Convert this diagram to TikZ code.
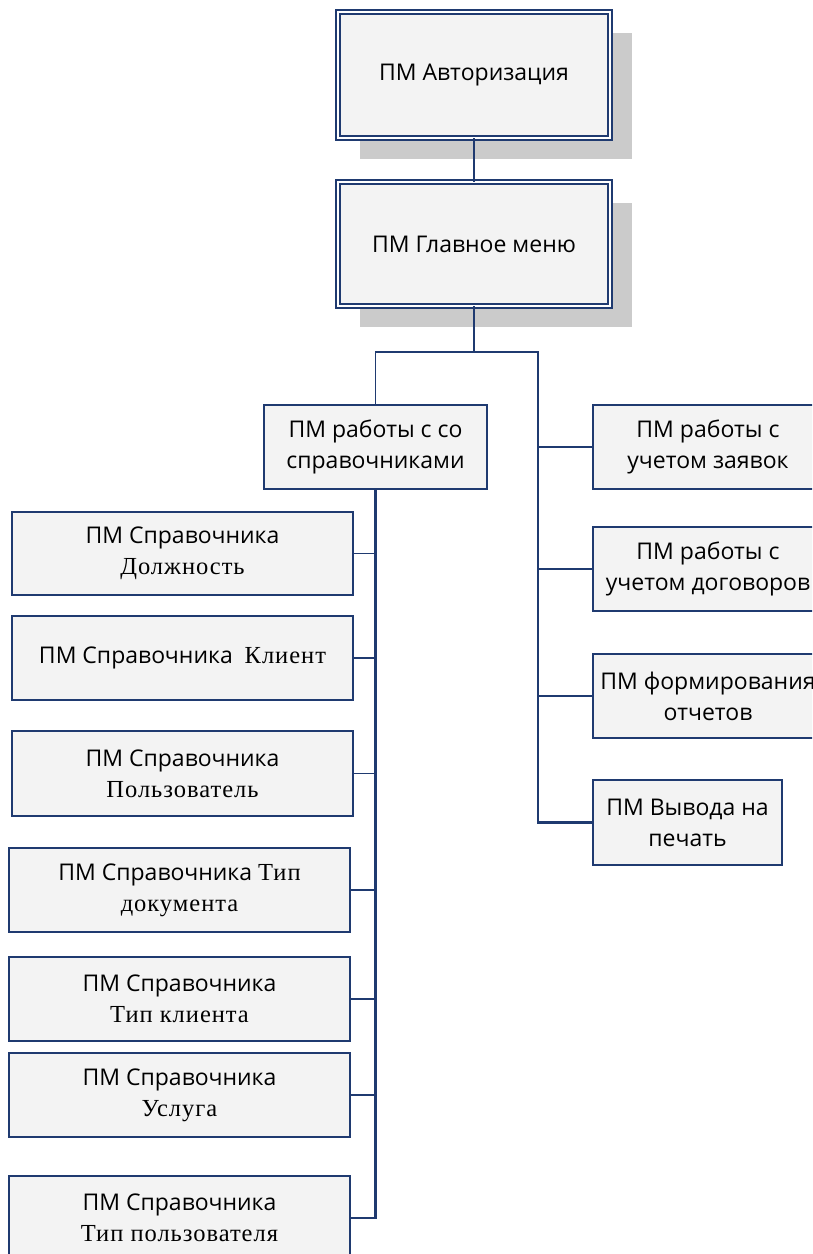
\documentclass[tikz,border=0pt]{standalone}
\usepackage{fontspec}
\setmainfont{Open Sans}
\newfontfamily\serifcyr{Liberation Serif}
\usetikzlibrary{shadows}
\definecolor{navy}{HTML}{1F3A70}
\definecolor{boxfill}{HTML}{F3F3F3}
\definecolor{shade}{HTML}{CBCBCB}
\tikzset{
  module/.style={draw=navy, fill=boxfill, line width=1.4pt, inner sep=0pt, outer sep=0pt,
    anchor=north west, align=center, font=\fontsize{23}{31}\selectfont},
  mainmod/.style={module, draw=navy, double=white, double distance=2.2pt, line width=1.6pt,
    drop shadow={shadow xshift=22pt, shadow yshift=-21pt, fill=shade, opacity=1}},
  link/.style={draw=navy, line width=1.6pt},
  trunk/.style={draw=navy, line width=2.4pt},
}
\newcommand{\sr}[1]{{\serifcyr\fontsize{24.5}{31}\selectfont\addfontfeatures{LetterSpace=4}#1}}
\begin{document}
\begin{tikzpicture}[x=1pt, y=-1pt]
\useasboundingbox (0,0) rectangle (812,1254);
\clip (0,0) rectangle (812,1254);

% top level
\node[mainmod, minimum width=272pt, minimum height=126pt] (auth) at (338,12) {ПМ Авторизация};
\node[mainmod, minimum width=272pt, minimum height=124pt] (menu) at (338,182) {ПМ Главное меню};

% second level
\node[module, minimum width=223pt, minimum height=84pt] (sprav) at (264,405) {ПМ работы с со\\справочниками};
\node[module, minimum width=230pt, minimum height=84pt] (orders) at (593,405) {ПМ работы с\\учетом заявок};
\node[module, minimum width=230pt, minimum height=84pt] (contracts) at (593,527) {ПМ работы с\\учетом договоров};
\node[module, minimum width=230pt, minimum height=84pt] (reports) at (593,654) {ПМ формирования\\отчетов};
\node[module, minimum width=189pt, minimum height=85pt] (print) at (593,780) {ПМ Вывода на\\печать};

% reference books
\node[module, minimum width=341pt, minimum height=83pt] (d1) at (12,512) {ПМ Справочника\\\sr{Должность}};
\node[module, minimum width=341pt, minimum height=84pt] (d2) at (12,616) {ПМ Справочника \ \sr{Клиент}};
\node[module, minimum width=341pt, minimum height=85pt] (d3) at (12,731) {ПМ Справочника\\\sr{Пользователь}};
\node[module, minimum width=341pt, minimum height=84pt] (d4) at (9,848) {ПМ Справочника \sr{Тип}\\\sr{документа}};
\node[module, minimum width=341pt, minimum height=84pt] (d5) at (9,957) {ПМ Справочника\\\sr{Тип клиента}};
\node[module, minimum width=341pt, minimum height=84pt] (d6) at (9,1053) {ПМ Справочника\\\sr{Услуга}};
\node[module, minimum width=341pt, minimum height=84pt] (d7) at (9,1176) {ПМ Справочника\\\sr{Тип пользователя}};

% connectors
\coordinate (bus) at (474,352);
\coordinate (rbus) at (538,352);
\draw[link] (auth.south) -- (menu.north);
\draw[trunk] (menu.south) -- (bus);
\draw[link] (bus) -| (sprav.north);
\draw[trunk] (bus) -- (rbus) |- (print.west);
\foreach \n in {orders,contracts,reports}
  \draw[link] (\n.west) -| (rbus);
\draw[trunk] (sprav.south) |- (d7.east);
\foreach \n in {d1,d2,d3,d4,d5,d6}
  \draw[link] (\n.east) -| (sprav.south);
\end{tikzpicture}
\end{document}
